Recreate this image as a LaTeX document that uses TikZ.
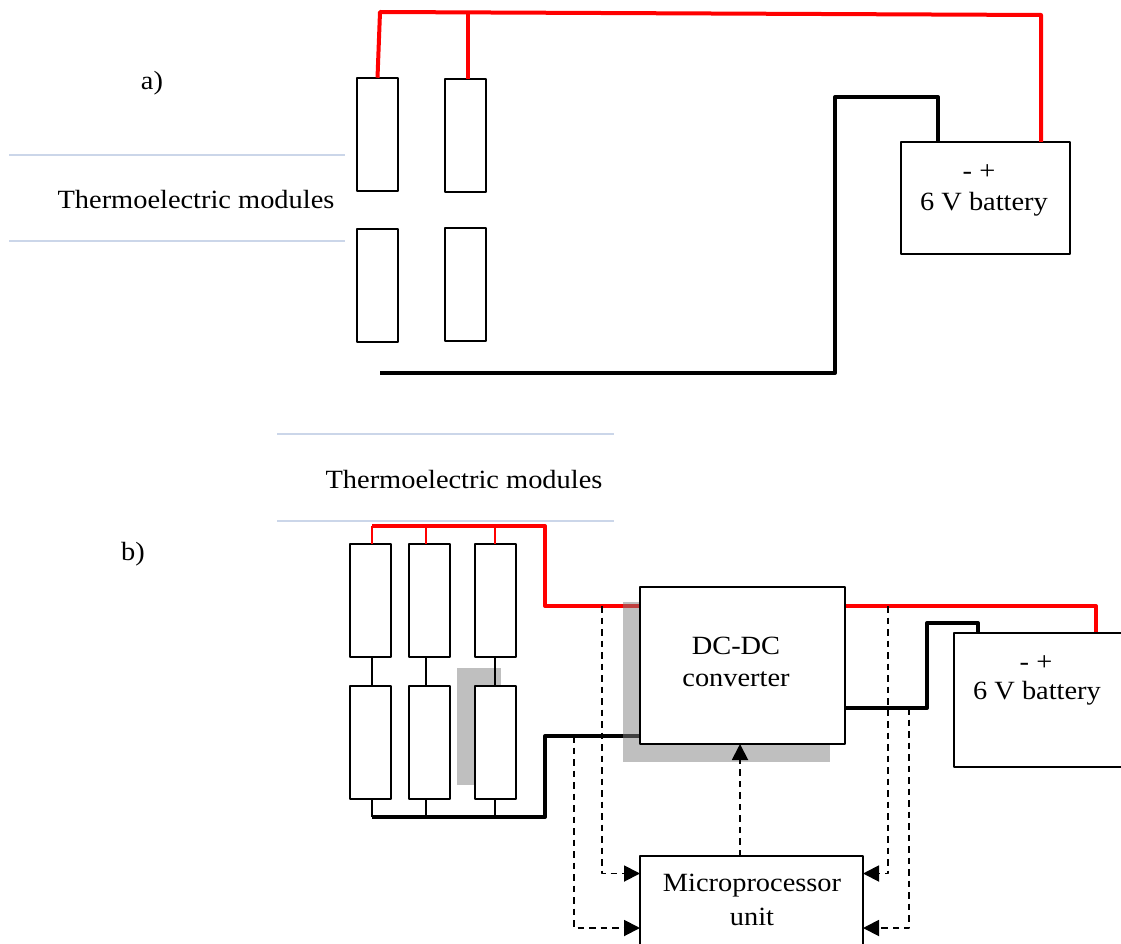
\documentclass[tikz,border=0pt]{standalone}
\usepackage{fontspec}
\setmainfont[FakeStretch=1.08]{Liberation Serif}
\usetikzlibrary{arrows.meta}
\definecolor{rulecol}{HTML}{CBD6E9}
\tikzset{
	box/.style={draw,line width=2pt,fill=white,inner sep=0,outer sep=0},
	modbox/.style={box,minimum width=41pt,minimum height=113.5pt},
	txt/.style={inner sep=0,font=\fontsize{26.3}{32}\selectfont},
	redwire/.style={red,line width=4pt,line join=round},
	blkwire/.style={black,line width=4pt,line join=round},
	redthin/.style={red,line width=2pt},
	blkthin/.style={black,line width=2pt},
	sigline/.style={->,line width=1.9pt,dash pattern=on 6.5pt off 5pt},
	shadow/.style={fill=gray,fill opacity=.5},
	divider/.style={rulecol,line width=2pt}
}
\begin{document}
\begin{tikzpicture}[x=1pt,y=-1pt,>={Triangle[length=16pt,width=16pt]},line join=round]
		\clip (0,0) rectangle (1121,944);
		\useasboundingbox (0,0) rectangle (1121,944);
		% part a
		\coordinate (ruleA) at (9,155); \coordinate (ruleAe) at (345,155);
		\coordinate (ruleB) at (9,241); \coordinate (ruleBe) at (345,241);
		\draw[divider] (ruleA)--(ruleAe) (ruleB)--(ruleBe);
		\node[txt] (labA) at (152,83) {a)};
		\node[txt] (tmA) at (196,200) {Thermoelectric modules};
		\node[modbox] (m1) at (377.5,134.5) {};
		\node[modbox] (m2) at (465.5,135.5) {};
		\node[modbox] (m3) at (377.5,285.5) {};
		\node[modbox] (m4) at (465.5,284.5) {};
		\node[box,minimum width=169pt,minimum height=112pt] (batA) at (985.5,198) {};
		\node[txt] (polA) at (979,172) {- +};
		\node[txt] (nameA) at (984,204) {6 V battery};
		\coordinate (redL) at (380,12);
		\coordinate (redM) at (468,12);
		\coordinate (redR) at (1041,15);
		\coordinate (plusA) at (1041,142);
		\coordinate (minusA) at (938,142);
		\coordinate (blkS) at (380,373);
		\coordinate (blkC) at (835,373);
		\coordinate (blkT) at (835,97);
		\draw[redwire] (m1.north)--(redL)--(redR)--(plusA);
		\draw[redwire] (m2.north-|redM)--(redM);
		\draw[blkwire] (blkS)--(blkC)--(blkT)-|(minusA);
		% part b
		\coordinate (ruleC) at (277,434); \coordinate (ruleCe) at (614,434);
		\coordinate (ruleD) at (277,521); \coordinate (ruleDe) at (614,521);
		\draw[divider] (ruleC)--(ruleCe) (ruleD)--(ruleDe);
		\node[txt] (tmB) at (464,480) {Thermoelectric modules};
		\node[txt] (labB) at (133,554) {b)};
		\coordinate (busRl) at (372,526);
		\coordinate (busRr) at (545,526);
		\coordinate (inR) at (545,606);
		\coordinate (busBl) at (372,817);
		\coordinate (busBr) at (545,817);
		\coordinate (inB) at (545,736);
		\coordinate (convRin) at (640,606);
		\coordinate (convBin) at (640,736);
		\coordinate (convRout) at (845,606);
		\coordinate (convBout) at (845,708);
		\coordinate (plusB) at (1096,633);
		\coordinate (minusB) at (978,633);
		\coordinate (kneeB) at (927,708);
		\coordinate (kneeT) at (927,623);
		\draw[redwire] (busRl)--(busRr)--(inR)--(convRin);
		\draw[blkwire] (busBl)--(busBr)--(inB)--(convBin);
		\draw[redwire] (convRout)-|(plusB);
		\draw[blkwire] (convBout)--(kneeB)--(kneeT)-|(minusB);
		% shadows
		\fill[shadow] (457,668) rectangle (501,785);
		\fill[shadow] (623,602) rectangle (830,762);
		\node[modbox] (t1) at (370.5,600.5) {};
		\node[modbox] (t2) at (429.5,600.5) {};
		\node[modbox] (t3) at (495.5,600.5) {};
		\node[modbox] (b1) at (370.5,742.5) {};
		\node[modbox] (b2) at (429.5,742.5) {};
		\node[modbox] (b3) at (495.5,742.5) {};
		\foreach \n/\x in {1/372,2/426,3/495}{
			\draw[redthin] (\x,526)--(t\n.north-|{\x,0});
			\draw[blkthin] (t\n.south-|{\x,0})--(b\n.north-|{\x,0});
			\draw[blkthin] (b\n.south-|{\x,0})--(\x,817);
		}
		\node[box,minimum width=205pt,minimum height=157pt] (conv) at (742.5,665.5) {};
		\node[txt] (convA) at (736,646) {DC-DC};
		\node[txt] (convB) at (736,679) {converter};
		\node[box,minimum width=176pt,minimum height=134pt] (batB) at (1042,700) {};
		\node[txt] (polB) at (1036,663) {- +};
		\node[txt] (nameB) at (1037,693) {6 V battery};
		\node[box,minimum width=223pt,minimum height=104pt] (mcu) at (751.5,908) {};
		\node[txt] (mcuA) at (752,886) {Microprocessor};
		\node[txt] (mcuB) at (752,917) {unit};
		% signals
		\coordinate (sL1) at (602,606); \coordinate (sL2) at (574,736);
		\coordinate (sR1) at (888,606); \coordinate (sR2) at (909,708);
		\coordinate (pL1) at (640,873.5); \coordinate (pL2) at (640,928);
		\coordinate (pR1) at (863,873.5); \coordinate (pR2) at (863,928);
		\draw[sigline] (sL1)|-(pL1);
		\draw[sigline] (sL2)|-(pL2);
		\draw[sigline] (sR1)|-(pR1);
		\draw[sigline] (sR2)|-(pR2);
		\draw[sigline] (mcu.north-|{740,0})--(conv.south-|{740,0});
		\end{tikzpicture}
\end{document}
